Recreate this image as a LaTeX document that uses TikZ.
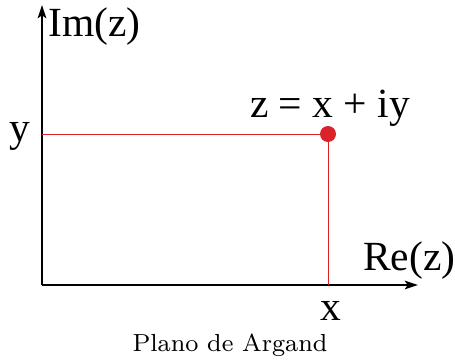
\documentclass[tikz,border=0pt]{standalone}
\usepackage{fontspec}
\newfontfamily\labelfont{Liberation Serif}
\usetikzlibrary{arrows.meta}
\definecolor{pointRed}{RGB}{218,35,40}

\begin{document}
\begin{tikzpicture}[x=0.025cm,y=-0.025cm,
  axis/.style={line width=0.9pt,-{Stealth[length=9.5pt,width=6.2pt,inset=2.2pt]}},
  guide/.style={draw=pointRed,line width=0.6pt},
  lbl/.style={inner sep=0pt,anchor=base,font=\labelfont\fontsize{29.5}{32}\selectfont}]
\useasboundingbox (0,0) rectangle (455,363);
\coordinate (O) at (42,285);
\coordinate (imTip) at (42,5);
\coordinate (reTip) at (418,285);
\coordinate (yAxis) at (42,134);
\coordinate (xAxis) at (328,285);
\draw[axis] (O) -- (imTip);
\draw[axis] (O) -- (reTip);
\coordinate (zPt) at (328,134);
\draw[guide] (yAxis) -- (zPt) -- (xAxis);
\fill[pointRed] (zPt) circle[radius=8];
\node[lbl,anchor=base west] (imLbl) at (48,36) {Im(z)};
\node[lbl,anchor=base west] (reLbl) at (363,270) {Re(z)};
\node[lbl] (yLbl) at (20,141) {y};
\node[lbl] (xLbl) at (331,320) {x};
\node[lbl] (zLbl) at (330,117) {z = x + iy};
\node[inner sep=0pt,anchor=base] (title) at (230,351) {\scalebox{2.25}{\fontsize{7.8}{9}\selectfont Plano de Argand}};
\end{tikzpicture}
\end{document}
